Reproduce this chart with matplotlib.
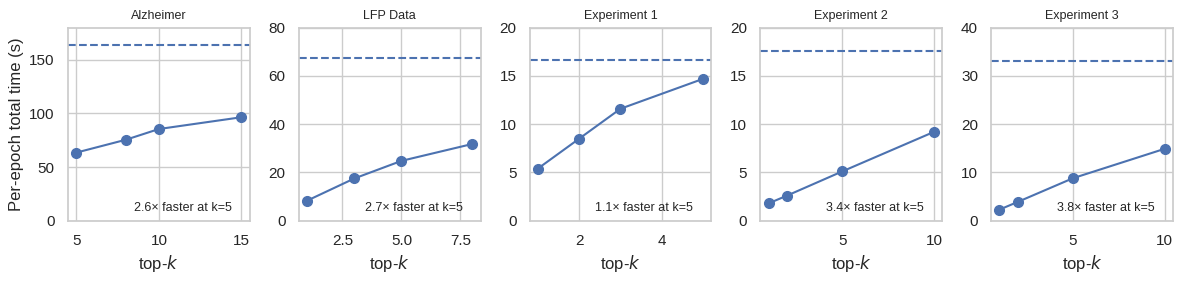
import matplotlib
matplotlib.use("Agg")
import matplotlib.pyplot as plt
import seaborn as sns

sns.set_theme(style="whitegrid")
plt.rcParams["font.family"] = ["Liberation Sans", "DejaVu Sans"]

titles = ["Alzheimer", "LFP Data", "Experiment 1", "Experiment 2", "Experiment 3"]
topk = [
    [5, 8, 10, 15],
    [1, 3, 5, 8],
    [1, 2, 3, 5],
    [1, 2, 5, 10],
    [1, 2, 5, 10],
]
times = [
    [63.5, 75.5, 85.5, 96.5],
    [8.3, 17.5, 24.8, 31.8],
    [5.4, 8.5, 11.6, 14.7],
    [1.8, 2.6, 5.1, 9.2],
    [2.3, 3.9, 8.8, 14.9],
]
baselines = [163.5, 67.5, 16.7, 17.6, 33.0]
speedups = ["2.6", "2.7", "1.1", "3.4", "3.8"]
ytops = [180, 80, 20, 20, 40]

color = "#4c72b0"
fig, axes = plt.subplots(1, 5, figsize=(11.83, 2.84), dpi=100)
fig.subplots_adjust(left=0.0575, right=0.9915, top=0.9025, bottom=0.2229, wspace=0.27)
for i, ax in enumerate(axes):
    ax.plot(topk[i], times[i], marker="o", color=color, linewidth=1.5, markersize=7)
    ax.axhline(baselines[i], color=color, linestyle="--", linewidth=1.5)
    ax.set_ylim(0, ytops[i])
    ax.set_title(titles[i], fontsize=9)
    ax.set_xlabel("top-$k$")
    ax.text(0.9, 0.035, f"{speedups[i]}× faster at k=5", transform=ax.transAxes,
            ha="right", va="bottom", fontsize=9)
axes[0].set_ylabel("Per-epoch total time (s)")
fig.savefig("out.png", dpi=100)
